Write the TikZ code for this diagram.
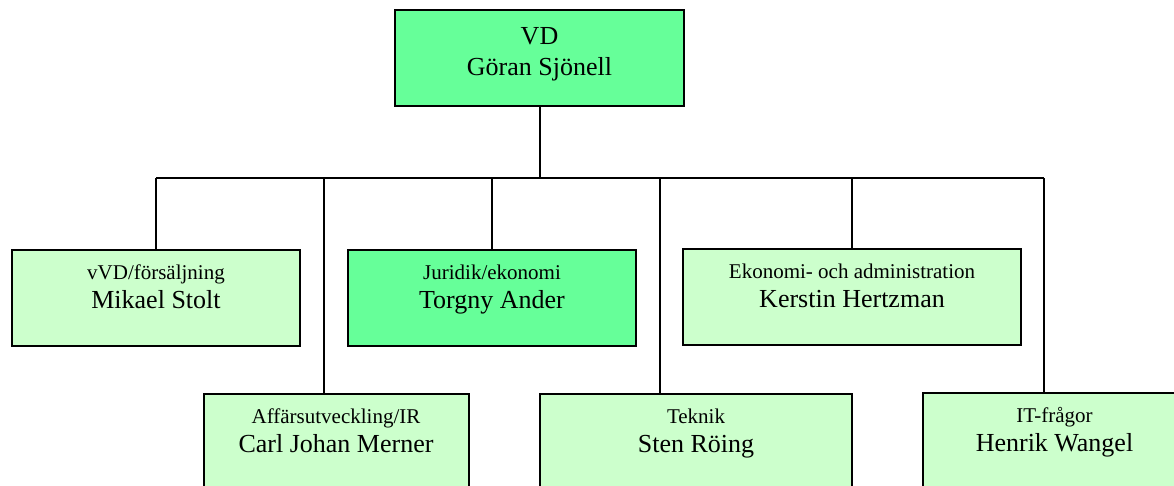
\documentclass[tikz,border=0pt]{standalone}
\usepackage{fontspec}
\setmainfont{Liberation Serif}

\definecolor{BrightGreen}{HTML}{66FF99}
\definecolor{PaleGreen}{HTML}{CCFFCC}

\tikzset{
    unitbox/.style={draw=black, line width=2pt, rectangle, inner sep=0pt, minimum height=96pt},
    roletext/.style={anchor=base, inner sep=0pt, font=\fontsize{21}{25}\selectfont},
    nametext/.style={anchor=base, inner sep=0pt, font=\fontsize{26}{31}\selectfont},
    wire/.style={line width=2pt}
}

\begin{document}
\begin{tikzpicture}[x=1pt, y=-1pt]
    % --- Canvas ---
    \useasboundingbox (0,0) rectangle (1174,485);

    % --- Top box ---
    \node[unitbox, fill=BrightGreen, minimum width=289pt] (VD) at (539.5,58) {};
    \node[nametext] (VDRole) at ([yshift=-35pt]VD.north) {VD};
    \node[nametext] (VDName) at ([yshift=-66pt]VD.north) {Göran Sjönell};

    % --- Upper row ---
    \node[unitbox, fill=PaleGreen, minimum width=288pt] (Stolt) at (156,298) {};
    \node[unitbox, fill=BrightGreen, minimum width=288pt] (Ander) at (492,298) {};
    \node[unitbox, fill=PaleGreen, minimum width=338pt] (Hertzman) at (852,297) {};

    % --- Lower row (cut by the page edge) ---
    \node[unitbox, fill=PaleGreen, minimum width=265pt] (Merner) at (336,442) {};
    \node[unitbox, fill=PaleGreen, minimum width=312pt] (Roing) at (696,442) {};
    \node[unitbox, fill=PaleGreen, minimum width=263pt] (Wangel) at (1054.5,441) {};

    % --- Texts ---
    \foreach \unit/\role/\name in {
        Stolt/{vVD/försäljning}/{Mikael Stolt},
        Ander/{Juridik/ekonomi}/{Torgny Ander},
        Hertzman/{Ekonomi- och administration}/{Kerstin Hertzman},
        Merner/{Affärsutveckling/IR}/{Carl Johan Merner},
        Roing/{Teknik}/{Sten Röing},
        Wangel/{IT-frågor}/{Henrik Wangel}}
    {
        \node[roletext] (\unit Role) at ([yshift=-30pt]\unit.north) {\role};
        \node[nametext] (\unit Name) at ([yshift=-59pt]\unit.north) {\name};
    }

    % --- Bus and drops ---
    \coordinate (BusA) at (156,178);
    \coordinate (BusB) at (324,178);
    \coordinate (BusC) at (492,178);
    \coordinate (BusD) at (660,178);
    \coordinate (BusE) at (852,178);
    \coordinate (BusF) at (1044,178);

    \draw[wire] (VD.south) -- (VD.south |- BusA);
    \draw[wire] (BusA) -- (BusF);
    \draw[wire] (BusA) -- (BusA |- Stolt.north);
    \draw[wire] (BusB) -- (BusB |- Merner.north);
    \draw[wire] (BusC) -- (BusC |- Ander.north);
    \draw[wire] (BusD) -- (BusD |- Roing.north);
    \draw[wire] (BusE) -- (BusE |- Hertzman.north);
    \draw[wire] (BusF) -- (BusF |- Wangel.north);
\end{tikzpicture}
\end{document}
